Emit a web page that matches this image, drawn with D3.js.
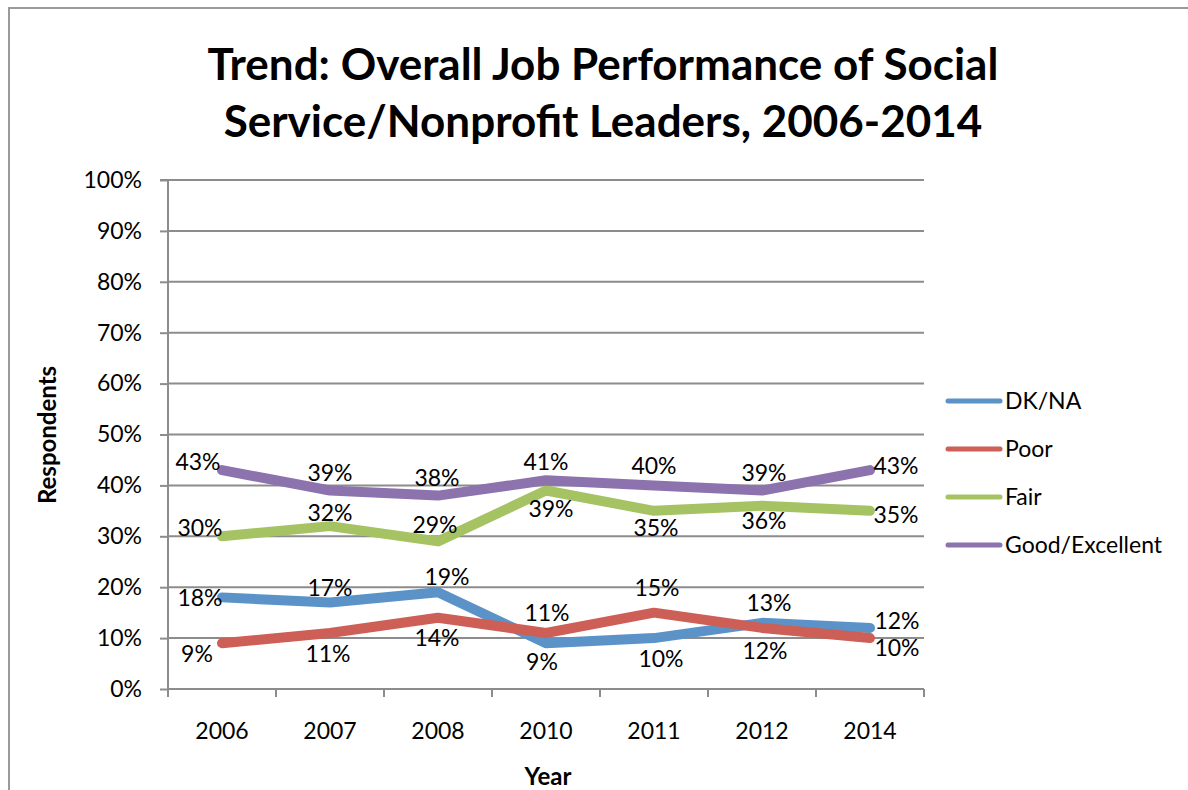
<!DOCTYPE html>
<html><head><meta charset="utf-8">
<script src="https://cdn.jsdelivr.net/npm/d3@7"></script>
<style>body{margin:0;background:#fff}svg{display:block}</style>
</head><body>
<script>
const years = ["2006","2007","2008","2010","2011","2012","2014"];
const dkna = [18,17,19,9,10,13,12];
const poor = [9,11,14,11,15,12,10];
const fair = [30,32,29,39,35,36,35];
const good = [43,39,38,41,40,39,43];
const seriesNames = ["DK/NA","Poor","Fair","Good/Excellent"];
const yTicks = [0,10,20,30,40,50,60,70,80,90,100];
// label offsets (dx, dy) from each point, as placed in the reference
const labelOffsets = {
  "DK/NA": [[-22,1],[0,-15],[9,-15],[-4,19],[7,21],[7,-20],[27,-7]],
  "Poor": [[-25,11],[-2,21],[-1,20],[1,-20],[3,-25],[3,23],[27,10]],
  "Fair": [[-22,-8],[0,-13],[-3,-16],[5,18],[2,17],[2,15],[26,4]],
  "Good/Excellent": [[-24,-8],[0,-18],[-1,-18],[0,-18],[0,-19],[2,-18],[26,-4]]
};
const colors = ["#5b93c8","#cd5f57","#a6c364","#8c73ad"];
const W=1188,H=790;
const svg=d3.select("body").append("svg").attr("width",W).attr("height",H);
const font="Lato, 'Open Sans', sans-serif";
const fs=23;
svg.append("rect").attr("x",9).attr("y",8).attr("width",W).attr("height",H).attr("fill","#fff").attr("stroke","#9a9a9a").attr("stroke-width",2);

const m={l:168,r:924,t:180,b:689};
const x=d3.scaleBand().domain(years).range([m.l,m.r]);
const y=d3.scaleLinear().domain([0,100]).range([m.b,m.t]);

// title
const title=svg.append("text").attr("text-anchor","middle").attr("font-family",font).attr("font-weight","bold").attr("font-size",44).attr("fill","#000");
title.append("tspan").attr("x",603).attr("y",80).text("Trend: Overall Job Performance of Social");
title.append("tspan").attr("x",603).attr("y",137).text("Service/Nonprofit Leaders, 2006-2014");

// gridlines
svg.append("g").selectAll("line").data(yTicks.filter(d=>d>0)).join("line")
 .attr("x1",m.l).attr("x2",m.r).attr("y1",d=>y(d)).attr("y2",d=>y(d))
 .attr("stroke","#8c8c8c").attr("stroke-width",2);

// y axis
const ya=svg.append("g").attr("transform",`translate(${m.l},0)`)
 .call(d3.axisLeft(y).tickValues(yTicks).tickFormat(d=>d+"%").tickSize(8).tickPadding(18));
ya.select(".domain").attr("stroke","#8c8c8c").attr("stroke-width",2).attr("d",`M-8,${m.t}H0V${m.b}`);
ya.selectAll(".tick line").attr("stroke","#8c8c8c").attr("stroke-width",2);
ya.selectAll("text").attr("font-family",font).attr("font-size",fs).attr("fill","#000");

// x axis
const xa=svg.append("g").attr("transform",`translate(0,${m.b})`)
 .call(d3.axisBottom(x).tickSize(0).tickPadding(34));
xa.select(".domain").attr("stroke","#8c8c8c").attr("stroke-width",2).attr("d",`M${m.l},0H${m.r}`);
xa.selectAll("text").attr("font-family",font).attr("font-size",fs).attr("fill","#000");
const bounds=years.map(d=>x(d)).concat([m.r]);
svg.append("g").selectAll("line").data(bounds).join("line")
 .attr("x1",d=>d).attr("x2",d=>d).attr("y1",m.b).attr("y2",m.b+8)
 .attr("stroke","#8c8c8c").attr("stroke-width",2);

// axis titles
svg.append("text").attr("transform","translate(56,435) rotate(-90)").attr("text-anchor","middle")
 .attr("font-family",font).attr("font-weight","bold").attr("font-size",24).text("Respondents");
svg.append("text").attr("x",548).attr("y",785).attr("text-anchor","middle")
 .attr("font-family",font).attr("font-weight","bold").attr("font-size",24).text("Year");

const data=[dkna,poor,fair,good];
const line=d3.line().x((d,i)=>x(years[i])+x.bandwidth()/2).y(d=>y(d));
data.forEach((vals,si)=>{
  svg.append("path").datum(vals).attr("d",line).attr("fill","none")
   .attr("stroke",colors[si]).attr("stroke-width",10).attr("stroke-linecap","round").attr("stroke-linejoin","round");
});
data.forEach((vals,si)=>{
  const offs=labelOffsets[seriesNames[si]];
  svg.append("g").selectAll("text").data(vals).join("text")
   .attr("x",(d,i)=>x(years[i])+x.bandwidth()/2+offs[i][0])
   .attr("y",(d,i)=>y(d)+offs[i][1])
   .attr("dy","0.35em").attr("text-anchor","middle")
   .attr("font-family",font).attr("font-size",fs).attr("fill","#000")
   .text(d=>d+"%");
});

// legend
const lg=svg.append("g");
seriesNames.forEach((n,i)=>{
  const yy=401+i*48;
  lg.append("line").attr("x1",948).attr("x2",1000).attr("y1",yy).attr("y2",yy)
   .attr("stroke",colors[i]).attr("stroke-width",5).attr("stroke-linecap","round");
  lg.append("text").attr("x",1005).attr("y",yy).attr("dy","0.35em")
   .attr("font-family",font).attr("font-size",fs).attr("fill","#000").text(n);
});
</script>
</body></html>
